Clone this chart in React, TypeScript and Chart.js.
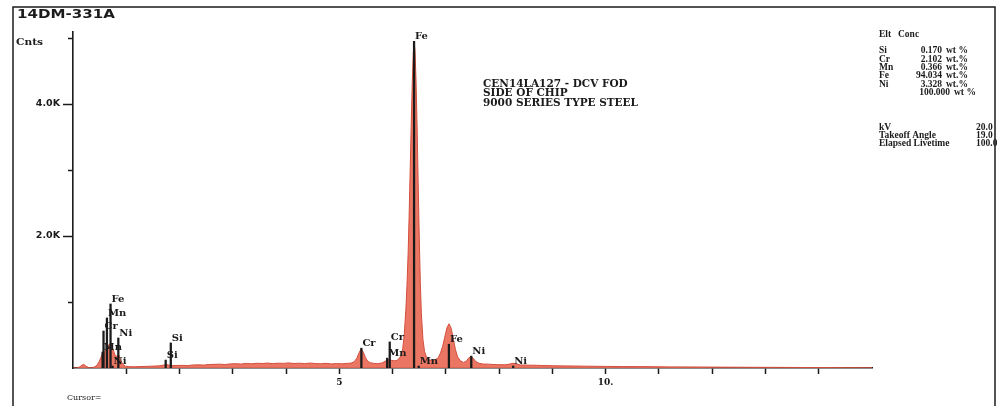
import React, { useEffect, useRef } from 'react';
import { Chart, registerables } from 'chart.js';

Chart.register(...registerables);

// ---------- data ----------
const title = '14DM-331A';
const yAxisName = 'Cnts';
const cursorText = 'Cursor=';

const energies = [
  0.0, 0.08, 0.13, 0.17, 0.2, 0.24, 0.29, 0.35, 0.4, 0.45, 0.49, 0.53, 0.56, 0.59, 0.62, 0.65, 0.68, 0.71,
  0.74, 0.77, 0.8, 0.83, 0.86, 0.89, 0.93, 0.98, 1.05, 1.15, 1.25, 1.35, 1.45, 1.55, 1.63, 1.7, 1.75, 1.8,
  1.88, 1.95, 2.05, 2.15, 2.25, 2.35, 2.45, 2.55, 2.65, 2.75, 2.85, 2.95, 3.05, 3.15, 3.25, 3.35, 3.45,
  3.55, 3.65, 3.75, 3.85, 3.95, 4.05, 4.15, 4.25, 4.35, 4.45, 4.55, 4.65, 4.75, 4.85, 4.95, 5.05, 5.15,
  5.22, 5.28, 5.33, 5.37, 5.41, 5.45, 5.49, 5.53, 5.58, 5.65, 5.72, 5.8, 5.86, 5.9, 5.94, 5.98, 6.03, 6.08,
  6.12, 6.16, 6.19, 6.22, 6.25, 6.27, 6.29, 6.31, 6.33, 6.35, 6.37, 6.39, 6.4, 6.42, 6.44, 6.46, 6.48, 6.5,
  6.52, 6.54, 6.57, 6.6, 6.64, 6.68, 6.74, 6.8, 6.86, 6.9, 6.94, 6.98, 7.02, 7.06, 7.1, 7.14, 7.18, 7.22,
  7.27, 7.33, 7.38, 7.42, 7.47, 7.51, 7.56, 7.62, 7.7, 7.8, 7.9, 8.0, 8.1, 8.18, 8.26, 8.33, 8.4, 8.5, 8.6,
  8.7, 8.8, 8.9, 9.0, 9.2, 9.4, 9.6, 9.8, 10.0, 10.3, 10.6, 10.9, 11.2, 11.5, 11.8, 12.1, 12.4, 12.7, 13.0,
  13.3, 13.6, 13.9, 14.2, 14.5, 14.8, 15.0,
];
const counts = [
  0, 2, 18, 45, 55, 30, 8, 5, 14, 40, 95, 170, 240, 230, 280, 330, 360, 370,
  310, 240, 175, 185, 195, 130, 60, 28, 20, 18, 22, 24, 27, 30, 34, 44, 52, 44,
  36, 38, 40, 37, 45, 48, 44, 52, 55, 58, 53, 62, 66, 60, 70, 64, 72,
  68, 75, 66, 73, 70, 77, 68, 73, 66, 75, 68, 64, 71, 62, 67, 63, 70,
  74, 95, 150, 230, 290, 240, 160, 105, 80, 70, 66, 76, 102, 122, 126, 116, 108, 115,
  140, 190, 290, 520, 900, 1250, 1700, 2300, 3000, 3700, 4350, 4800, 4950, 4820, 4350, 3650, 2800, 2000,
  1300, 820, 430, 250, 160, 125, 112, 122, 160, 230, 330, 470, 610, 670, 600, 440, 280, 170,
  110, 85, 100, 145, 175, 150, 100, 72, 60, 58, 52, 50, 48, 56, 72, 58, 46, 44, 42,
  41, 38, 36, 35, 32, 30, 28, 26, 24, 22, 21, 19, 17, 16, 15, 13, 12, 11, 10,
  9, 8, 7, 6, 5, 4, 3,
];

// KLM marker lines: energy (keV), marker height (counts), label
const markerEnergies = [0.556, 0.573, 0.637, 0.705, 0.743, 0.851, 1.74, 1.836, 5.414, 5.898, 5.946, 6.403, 6.49, 7.057, 7.477, 8.264];
const markerHeights = [242, 560, 758, 970, 30, 455, 120, 380, 300, 150, 395, 4950, 30, 360, 180, 30];
const markerLabels = ['Mn', 'Cr', 'Mn', 'Fe', 'Ni', 'Ni', 'Si', 'Si', 'Cr', 'Mn', 'Cr', 'Fe', 'Mn', 'Fe', 'Ni', 'Ni'];

const xMin = 0;
const xMax = 15;
const xTickLabels: Record<number, string> = { 5: '5', 10: '10.' };
const yMax = 5090;
const yTickValues = [1000, 2000, 3000, 4000, 5000];
const yTickLabels: Record<number, string> = { 2000: '2.0K', 4000: '4.0K' };

const sampleLines = ['CEN14LA127 - DCV FOD', 'SIDE OF CHIP', '9000 SERIES TYPE STEEL'];

const tableHeader = ['Elt', 'Conc'];
const elements = ['Si', 'Cr', 'Mn', 'Fe', 'Ni'];
const concentrations = ['0.170', '2.102', '0.366', '94.034', '3.328'];
const concUnits = ['wt %', 'wt.%', 'wt.%', 'wt.%', 'wt.%'];
const totalConc = '100.000';
const totalUnit = 'wt %';
const paramNames = ['kV', 'Takeoff Angle', 'Elapsed Livetime'];
const paramValues = ['20.0', '19.0', '100.0'];

// ---------- styles ----------
const ink = '#1b1b1b';
const fillRed = 'rgba(233,108,88,0.93)';
const edgeRed = 'rgb(210,78,60)';

function fitText(ctx: CanvasRenderingContext2D, text: string, x: number, y: number, font: string, width?: number) {
  ctx.save();
  ctx.font = font;
  const w = ctx.measureText(text).width;
  const sx = width && w > 0 ? width / w : 1;
  ctx.translate(x, y);
  ctx.scale(sx, 1);
  ctx.textAlign = 'left';
  ctx.textBaseline = 'middle';
  ctx.fillText(text, 0, 0);
  ctx.restore();
}

const overlayPlugin = {
  id: 'overlay',
  afterDraw(chart: any) {
    const ctx: CanvasRenderingContext2D = chart.ctx;
    const xs = chart.scales.x;
    const ys = chart.scales.y;
    ctx.save();
    ctx.fillStyle = ink;
    ctx.strokeStyle = ink;

    // frame
    ctx.lineWidth = 1.5;
    ctx.beginPath();
    ctx.moveTo(13, 420);
    ctx.lineTo(13, 7);
    ctx.lineTo(995, 7);
    ctx.lineTo(995, 420);
    ctx.stroke();

    // y tick marks
    const axisX = chart.chartArea.left;
    yTickValues.forEach((v) => {
      const y = Math.round(ys.getPixelForValue(v)) + 0.5;
      const len = yTickLabels[v] ? 10 : 5;
      ctx.beginPath();
      ctx.moveTo(axisX - len, y);
      ctx.lineTo(axisX, y);
      ctx.stroke();
    });

    // title and texts
    fitText(ctx, title, 17, 15, 'bold 13px "DejaVu Sans"', 98);
    fitText(ctx, yAxisName, 16, 43, 'bold 9px "DejaVu Serif"', 27);
    fitText(ctx, cursorText, 67, 398, '8px "DejaVu Serif"');

    // sample description
    sampleLines.forEach((t, i) => {
      fitText(ctx, t, 483, 84 + i * 9.6, 'bold 10.5px "DejaVu Serif"');
    });

    // marker labels
    ctx.font = 'bold 10px "DejaVu Serif"';
    ctx.textAlign = 'left';
    ctx.textBaseline = 'middle';
    markerEnergies.forEach((e, i) => {
      const px = xs.getPixelForValue(e) + 1;
      const py = ys.getPixelForValue(markerHeights[i]) - 5;
      ctx.fillText(markerLabels[i], px, py);
    });

    // quantification table
    ctx.font = 'bold 9.5px "Liberation Serif"';
    ctx.textBaseline = 'middle';
    ctx.textAlign = 'left';
    ctx.fillText(tableHeader[0], 879, 35);
    ctx.fillText(tableHeader[1], 898, 35);
    elements.forEach((el, i) => {
      const y = 51 + i * 8.3;
      ctx.textAlign = 'left';
      ctx.fillText(el, 879, y);
      ctx.textAlign = 'right';
      ctx.fillText(concentrations[i], 942, y);
      ctx.textAlign = 'left';
      ctx.fillText(concUnits[i], 946, y);
    });
    const ty = 51 + elements.length * 8.3;
    ctx.textAlign = 'right';
    ctx.fillText(totalConc, 950, ty);
    ctx.textAlign = 'left';
    ctx.fillText(totalUnit, 954, ty);
    paramNames.forEach((p, i) => {
      const y = 128 + i * 8;
      ctx.textAlign = 'left';
      ctx.fillText(p, 879, y);
      ctx.fillText(paramValues[i], 976, y);
    });

    ctx.restore();
  },
};

export default function App() {
  const canvasRef = useRef<HTMLCanvasElement | null>(null);

  useEffect(() => {
    document.body.style.margin = '0';
    const canvas = canvasRef.current;
    if (!canvas) return;

    const spectrum = energies.map((e, i) => ({ x: e, y: counts[i] }));
    const markers = markerEnergies.map((e, i) => ({ x: e, y: markerHeights[i] }));

    const chart = new Chart(canvas, {
      type: 'line',
      data: {
        datasets: [
          {
            type: 'bar',
            data: markers as any,
            backgroundColor: ink,
            borderWidth: 0,
            barThickness: 1.6,
            grouped: false,
            order: 1,
          } as any,
          {
            type: 'line',
            data: spectrum as any,
            fill: 'origin',
            backgroundColor: fillRed,
            borderColor: edgeRed,
            borderWidth: 1,
            pointRadius: 0,
            tension: 0,
            order: 2,
          } as any,
        ],
      },
      options: {
        responsive: false,
        animation: false,
        devicePixelRatio: 1,
        events: [],
        layout: { padding: { top: 32, right: 125, bottom: 0, left: 0 } },
        plugins: {
          legend: { display: false },
          tooltip: { enabled: false },
          title: { display: false },
        },
        scales: {
          x: {
            type: 'linear',
            min: xMin,
            max: xMax,
            offset: false,
            grid: {
              display: true,
              offset: false,
              drawOnChartArea: false,
              drawTicks: true,
              tickLength: 6,
              tickWidth: 1.5,
              tickColor: (c: any) =>
                c.tick && (c.tick.value === xMin || c.tick.value === xMax) ? 'rgba(0,0,0,0)' : ink,
            },
            border: { display: true, color: ink, width: 1.6 },
            ticks: {
              stepSize: 1,
              autoSkip: false,
              maxRotation: 0,
              padding: 3,
              color: ink,
              font: { family: 'DejaVu Serif', weight: 'bold', size: 9 },
              callback: (v: any) => xTickLabels[Number(v)] ?? '',
            },
            afterFit: (s: any) => {
              s.height = 38;
            },
          },
          y: {
            type: 'linear',
            min: 0,
            max: yMax,
            grid: { display: false, drawTicks: false },
            border: { display: true, color: ink, width: 1.6 },
            afterBuildTicks: (s: any) => {
              s.ticks = yTickValues.map((v) => ({ value: v }));
            },
            ticks: {
              padding: 13,
              color: ink,
              font: { family: 'DejaVu Sans', weight: 'bold', size: 9.5 },
              callback: (v: any) => yTickLabels[Number(v)] ?? '',
            },
            afterFit: (s: any) => {
              s.width = 73;
            },
          },
        },
      } as any,
      plugins: [overlayPlugin],
    });

    return () => {
      chart.destroy();
    };
  }, []);

  return (
    <div style={{ width: 997, height: 406, background: '#ffffff' }}>
      <canvas ref={canvasRef} width={997} height={406} style={{ display: 'block', width: 997, height: 406 }} />
    </div>
  );
}
